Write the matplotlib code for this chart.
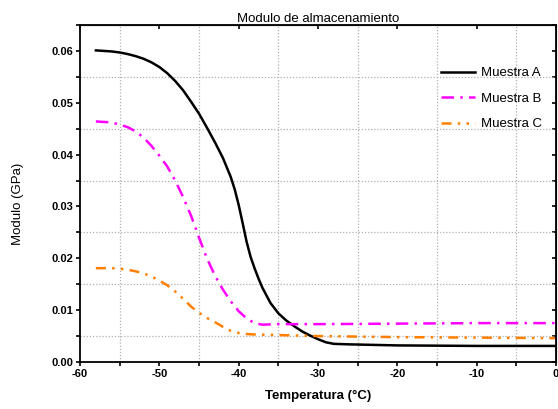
import numpy as np
import matplotlib
matplotlib.use('Agg')
import matplotlib.pyplot as plt
from matplotlib.ticker import MultipleLocator, FormatStrFormatter

plt.rcParams['font.family'] = ['Liberation Sans', 'DejaVu Sans']
plt.rcParams['axes.unicode_minus'] = False

# Muestra A (linea continua negra)
temp_a = [-58, -57, -56, -55, -54, -53, -52, -51, -50, -49, -48, -47, -46, -45,
          -44, -43, -42, -41, -40.5, -40, -39.5, -39, -38.5, -38, -37.5, -37, -36,
          -35, -34, -33, -32, -31, -30, -29, -28, -26, -20, -10, 0]
mod_a = [0.0601, 0.0600, 0.0599, 0.0597, 0.0594, 0.0590, 0.0585, 0.0578, 0.0569,
         0.0557, 0.0542, 0.0524, 0.0502, 0.0479, 0.0452, 0.0424, 0.0394, 0.0357,
         0.0333, 0.0303, 0.0268, 0.0232, 0.0203, 0.0181, 0.0161, 0.0143, 0.0114,
         0.0094, 0.0080, 0.0069, 0.0059, 0.0051, 0.0044, 0.0038, 0.0035, 0.0034,
         0.0032, 0.0031, 0.0031]

# Muestra B (magenta)
temp_b = [-58, -57, -56, -55, -54, -53, -52, -51, -50, -49, -48, -47, -46, -45,
          -44, -43, -42, -41, -40, -39, -38, -37, -35, -30, -20, -10, 0]
mod_b = [0.0464, 0.0463, 0.0462, 0.0458, 0.0453, 0.0445, 0.0433, 0.0417, 0.0398,
         0.0377, 0.0350, 0.0318, 0.0282, 0.0240, 0.0200, 0.0167, 0.0140, 0.0117,
         0.0098, 0.0084, 0.0075, 0.0072, 0.0073, 0.0073, 0.0074, 0.0075, 0.0075]

# Muestra C (naranja)
temp_c = [-58, -56, -55, -54, -53, -52, -51, -50, -49, -48, -47, -46, -45, -44,
          -43, -42, -41, -40, -39, -38, -35, -30, -20, -10, 0]
mod_c = [0.0181, 0.0181, 0.0180, 0.0178, 0.0175, 0.0171, 0.0165, 0.0157, 0.0148,
         0.0136, 0.0122, 0.0107, 0.0095, 0.0085, 0.0077, 0.0068, 0.0060, 0.0056,
         0.0054, 0.0053, 0.0052, 0.0050, 0.0048, 0.0047, 0.0046]

fig = plt.figure(figsize=(5.58, 4.09), dpi=100)
ax = fig.add_axes([80 / 558, 1 - 362 / 409, 476 / 558, 337 / 409])

ax.plot(temp_a, mod_a, color='black', lw=1.8, label='Muestra A')
ax.plot(temp_b, mod_b, color='#ff00ff', lw=1.8, linestyle=(0, (5, 2.5, 1, 2.5)), label='Muestra B')
ax.plot(temp_c, mod_c, color='#ff8000', lw=1.8, linestyle=(0, (4, 2.5, 1, 2.5, 1, 2.5)), label='Muestra C')

ax.set_xlim(-60, 0)
ax.set_ylim(0, 0.065)
ax.xaxis.set_major_locator(MultipleLocator(10))
ax.xaxis.set_minor_locator(MultipleLocator(5))
ax.yaxis.set_major_locator(MultipleLocator(0.01))
ax.yaxis.set_minor_locator(MultipleLocator(0.005))
ax.yaxis.set_major_formatter(FormatStrFormatter('%.2f'))

# grid solo en las marcas menores
ax.grid(which='minor', color='#b0b0b0', linestyle=(0, (1, 1.5)), lw=0.9)
ax.grid(which='major', visible=False)

ax.tick_params(which='both', direction='out', length=3, width=1.2,
               labelsize=8, pad=2)
# marcas hacia dentro arriba y a la derecha
ax.secondary_xaxis('top').tick_params(which='both', direction='in', length=3, width=1.2,
                                      labeltop=False)
sec_y = ax.secondary_yaxis('right')
sec_y.tick_params(which='both', direction='in', length=3, width=1.2, labelright=False)
sec_y.yaxis.set_major_locator(MultipleLocator(0.01))
sec_y.yaxis.set_minor_locator(MultipleLocator(0.005))
for lab in ax.get_xticklabels() + ax.get_yticklabels():
    lab.set_fontweight('bold')
for s in ax.spines.values():
    s.set_linewidth(1.3)

ax.set_title('Modulo de almacenamiento', fontsize=9.5, pad=2)
ax.set_xlabel('Temperatura (°C)', fontsize=9.5, fontweight='bold', labelpad=8)
ax.set_ylabel('Modulo (GPa)', fontsize=9.5)
ax.yaxis.set_label_coords(-0.118, 0.47)

ax.legend(loc='upper right', bbox_to_anchor=(0.995, 0.91), frameon=False,
          fontsize=9.5, handlelength=2.6, handletextpad=0.4, labelspacing=1.0)

fig.savefig('out.png', dpi=100)
